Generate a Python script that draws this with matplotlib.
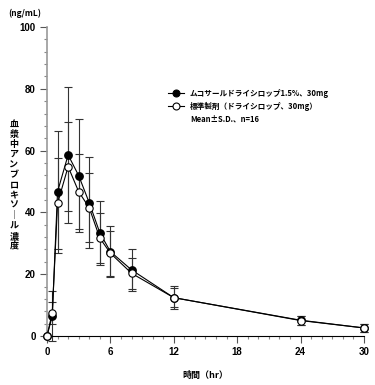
import matplotlib
matplotlib.use('Agg')
import matplotlib.pyplot as plt
import numpy as np

plt.rcParams['font.family'] = ['Noto Sans CJK JP', 'DejaVu Sans']

time_hr = [0, 0.5, 1, 2, 3, 4, 5, 6, 8, 12, 24, 30]
test_mean = [0, 6.5, 46.7, 58.6, 51.9, 43.1, 33.4, 27.3, 21.4, 12.4, 5.1, 2.6]
test_sd = [0, 8.0, 19.7, 21.9, 18.2, 14.7, 10.4, 8.3, 6.7, 3.8, 1.5, 1.4]
ref_mean = [0, 7.5, 42.9, 54.8, 46.7, 41.5, 31.7, 26.8, 20.3, 12.4, 5.0, 2.6]
ref_sd = [0, 3.6, 14.6, 14.5, 12.2, 11.1, 8.0, 7.3, 5.0, 3.0, 1.5, 1.4]

test_label = 'ムコサールドライシロップ1.5%、30mg'
ref_label = '標準製剤（ドライシロップ、30mg）'
note = 'Mean±S.D.、n=16'
ylab_chars = '血漿中アンブロキソ｜ル濃度'

fig = plt.figure(figsize=(3.75, 3.85), dpi=100)
ax = fig.add_axes([0.1253, 0.1273, 0.8453, 0.8026])

ax.errorbar(time_hr, test_mean, yerr=test_sd, fmt='none', ecolor='#333333',
            elinewidth=0.8, capsize=2.8, capthick=0.8, zorder=1, clip_on=False)
ax.errorbar(time_hr, ref_mean, yerr=ref_sd, fmt='none', ecolor='#333333',
            elinewidth=0.8, capsize=2.8, capthick=0.8, zorder=1, clip_on=False)
ax.plot(time_hr, test_mean, '-o', color='black', lw=0.8, ms=5.3,
        mfc='black', mec='black', zorder=3, clip_on=False)
ax.plot(time_hr, ref_mean, '-o', color='black', lw=0.8, ms=5.3,
        mfc='white', mec='black', mew=0.8, zorder=4, clip_on=False)

ax.set_xlim(0, 30)
ax.set_ylim(0, 100)
ax.spines['top'].set_visible(False)
ax.spines['right'].set_visible(False)
ax.spines['left'].set_color('#999999')
ax.spines['left'].set_linewidth(1.2)
ax.spines['bottom'].set_linewidth(0.8)

ax.set_xticks(np.arange(0, 31, 6))
ax.set_xticks(np.arange(0, 31, 1), minor=True)
ax.set_yticks(np.arange(0, 101, 20))
ax.set_yticks(np.arange(0, 101, 4), minor=True)
ax.tick_params(which='major', length=5, width=0.8, color='#555555', labelsize=7, pad=3)
ax.tick_params(which='minor', length=2.5, width=0.8, color='#888888')
for lab in ax.get_xticklabels() + ax.get_yticklabels():
    lab.set_fontweight('bold')
    lab.set_family('Liberation Sans')

ax.set_xlabel('時間（hr）', fontsize=6.5, fontweight='bold', labelpad=10)
fig.text(0.022, 0.965, '(ng/mL)', fontsize=6, fontweight='bold', ha='left', va='center')

# vertical y label, one character per row
for i, ch in enumerate(ylab_chars):
    fig.text(0.037, (385 - 124 - i * 10.2) / 385, ch, fontsize=6.5, fontweight='bold',
             ha='center', va='center')

# legend drawn by hand
for i, (fc, txt) in enumerate([('black', test_label), ('white', ref_label)]):
    yy = (385 - 93 - i * 13) / 385
    fig.add_artist(plt.Line2D([168 / 375, 184 / 375], [yy, yy], color='black', lw=0.8))
    fig.add_artist(plt.Line2D([176 / 375], [yy], color='black', marker='o',
                              ms=5, mfc=fc, mec='black', mew=0.8, ls='none'))
    fig.text(190 / 375, yy, txt, fontsize=5.5, fontweight='bold', va='center')
fig.text(190 / 375, (385 - 119) / 385, note, fontsize=5.5, fontweight='bold', va='center')

fig.savefig('out.png', dpi=100)
